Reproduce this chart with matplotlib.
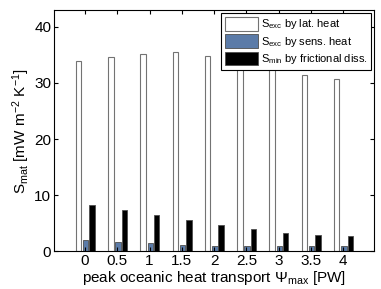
import numpy as np
import matplotlib
matplotlib.use('Agg')
import matplotlib.pyplot as plt

plt.rcParams['font.family'] = ['Liberation Sans', 'DejaVu Sans']
plt.rcParams['mathtext.fontset'] = 'custom'
plt.rcParams['mathtext.rm'] = 'Liberation Sans'
plt.rcParams['mathtext.it'] = 'Liberation Sans'

psi_max = [0, 0.5, 1, 1.5, 2, 2.5, 3, 3.5, 4]
tick_labels = ['0', '0.5', '1', '1.5', '2', '2.5', '3', '3.5', '4']
s_exc_lat = [34.0, 34.7, 35.2, 35.5, 34.9, 34.1, 32.8, 31.4, 30.7]
s_exc_sens = [1.9, 1.55, 1.4, 1.07, 0.95, 1.0, 0.9, 0.9, 1.0]
s_min_fric = [8.2, 7.3, 6.4, 5.5, 4.7, 3.9, 3.3, 2.8, 2.7]

fig = plt.figure(figsize=(3.81, 2.89), dpi=100)
ax = fig.add_axes([0.142, 0.131, 0.840, 0.834])

x = np.array(psi_max)
w = 0.085
ax.bar(x - 0.10, s_exc_lat, w, color='white', edgecolor='0.45', linewidth=0.8,
       label=r'S$_{\rm exc}$ by lat. heat')
ax.bar(x + 0.01, s_exc_sens, w, color='#5b7ba8', edgecolor='0.3', linewidth=0.6,
       label=r'S$_{\rm exc}$ by sens. heat')
ax.bar(x + 0.11, s_min_fric, w, color='black', edgecolor='0.3', linewidth=0.6,
       label=r'S$_{\rm min}$ by frictional diss.')

ax.set_xlim(-0.48, 4.48)
ax.set_ylim(0, 43)
ax.set_xticks(psi_max)
ax.set_xticklabels(tick_labels)
ax.set_yticks([0, 10, 20, 30, 40])
ax.tick_params(direction='in', top=True, right=True, labelsize=11, length=3, pad=2)
ax.set_xlabel(r'peak oceanic heat transport $\Psi_{\rm max}$ [PW]', fontsize=11, labelpad=0.5)
ax.set_ylabel(r'S$_{\rm mat}$ [mW m$^{-2}$ K$^{-1}$]', fontsize=11, labelpad=2)

leg = ax.legend(loc='upper right', fontsize=8, fancybox=False, framealpha=1,
                edgecolor='black', handlelength=3.0, handleheight=1.55,
                borderpad=0.3, labelspacing=0.25, handletextpad=0.25,
                borderaxespad=0.3)
leg.get_frame().set_linewidth(0.8)

fig.savefig('out.png', dpi=100)
